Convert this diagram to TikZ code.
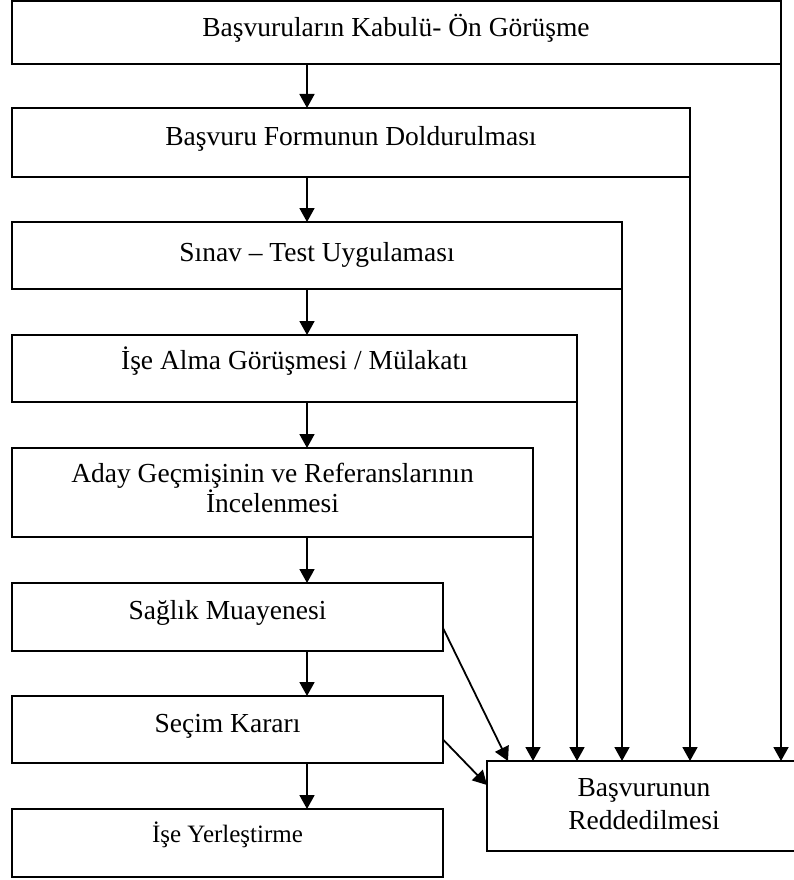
\documentclass[tikz,border=0pt]{standalone}
\usepackage{fontspec}
\setmainfont{Liberation Serif}
\usetikzlibrary{arrows.meta}
\begin{document}
\begin{tikzpicture}[x=1pt,y=-1pt,
  box/.style={draw, line width=2pt, rectangle, inner sep=0pt, outer sep=0pt, anchor=north west},
  lbl/.style={inner sep=0pt, anchor=base, align=center, font=\fontsize{27.5}{30}\selectfont},
  arr/.style={line width=1.8pt, -{Triangle[length=14pt,width=15pt]}}]
\useasboundingbox (0,0) rectangle (793,880);

% process steps
\node[box, minimum width=769pt, minimum height=63pt] (b1) at (12,1) {};
\node[box, minimum width=678pt, minimum height=69pt] (b2) at (12,108) {};
\node[box, minimum width=610pt, minimum height=67pt] (b3) at (12,222) {};
\node[box, minimum width=565pt, minimum height=67pt] (b4) at (12,335) {};
\node[box, minimum width=521pt, minimum height=89pt] (b5) at (12,448) {};
\node[box, minimum width=431pt, minimum height=68pt] (b6) at (12,583) {};
\node[box, minimum width=431pt, minimum height=67pt] (b7) at (12,696) {};
\node[box, minimum width=431pt, minimum height=68pt] (b8) at (12,809) {};
\node[box, minimum width=314pt, minimum height=90pt] (rej) at (487,761) {};

% labels (multi-line labels are anchored at their last baseline)
\node[lbl] (t1) at (396,37) {Başvuruların Kabulü- Ön Görüşme};
\node[lbl] (t2) at (351,146) {Başvuru Formunun Doldurulması};
\node[lbl] (t3) at (317,261) {Sınav – Test Uygulaması};
\node[lbl] (t4) at (294.5,369) {İşe Alma Görüşmesi / Mülakatı};
\node[lbl] (t5) at (272.5,512) {Aday Geçmişinin ve Referanslarının\\İncelenmesi};
\node[lbl] (t6) at (227.5,619) {Sağlık Muayenesi};
\node[lbl] (t7) at (227.5,732) {Seçim Kararı};
\node[lbl, font=\fontsize{25}{29}\selectfont] (t8) at (227.5,842) {İşe Yerleştirme};
\node[lbl, font=\fontsize{27.5}{33}\selectfont] (trej) at (644,829) {Başvurunun\\Reddedilmesi};

% main flow
\coordinate (spine) at (307,0);
\foreach \a/\b in {b1/b2,b2/b3,b3/b4,b4/b5,b5/b6,b6/b7,b7/b8}
  \draw[arr] (\a.south -| spine) -- (\b.north -| spine);

% rejection paths
\foreach \a in {b1,b2,b3,b4,b5}
  \draw[arr] (\a.south east) -- (\a.south east |- rej.north);
\draw[arr] ([yshift=-11pt]b6.east) -- ([xshift=21pt]rej.north west);
\draw[arr] ([yshift=-10pt]b7.east) -- ([yshift=-24pt]rej.north west);
\end{tikzpicture}
\end{document}
